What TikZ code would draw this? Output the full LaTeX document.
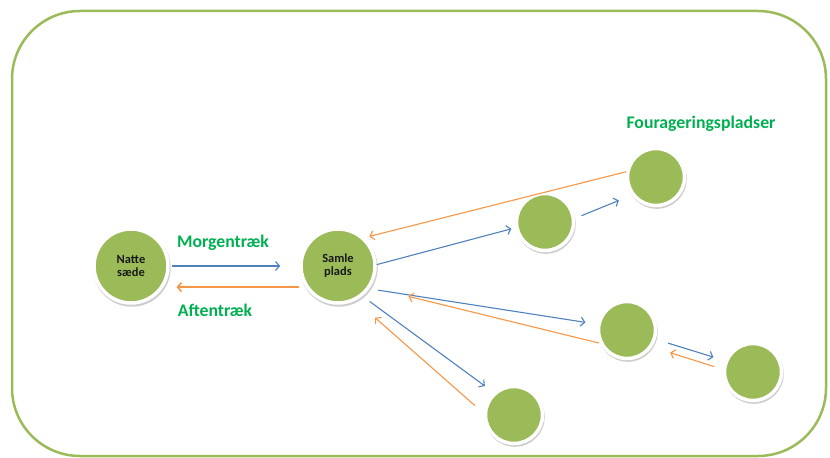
\documentclass[tikz,border=0pt]{standalone}
\usepackage{fontspec}
\setmainfont{Carlito}
\usetikzlibrary{arrows.meta,shadows}
\definecolor{olive}{HTML}{9BBB59}
\definecolor{txtgreen}{HTML}{00B050}
\definecolor{arrblue}{HTML}{4F81BD}
\definecolor{arrorange}{HTML}{F79646}
\tikzset{
  spot/.style={circle, fill=olive, draw=white, line width=3.5bp, inner sep=0pt,
    drop shadow={shadow xshift=0.8bp, shadow yshift=-1.8bp, shadow scale=1.05, opacity=0.28, fill=black!70},
    font=\fontsize{12.5}{13}\selectfont\bfseries, align=center, text=black!90},
  bigspot/.style={spot, minimum size=74bp},
  smallspot/.style={spot, minimum size=57bp},
  blueflow/.style={draw=arrblue, line width=1.1bp, -{Straight Barb[length=4bp,width=9bp]}},
  orangeflow/.style={draw=arrorange, line width=1.1bp, -{Straight Barb[length=4bp,width=9bp]}},
  lbl/.style={text=txtgreen, font=\fontsize{17.8}{19}\selectfont\bfseries}
}
\begin{document}
\begin{tikzpicture}[x=1bp,y=-1bp]
\useasboundingbox (0,0) rectangle (830,458);
\draw[olive, line width=2.5bp, rounded corners=68bp] (12,11) rectangle (826,456);

\node[bigspot] (natte) at (131,266) {Natte\\sæde};
\node[bigspot] (samle) at (338,266) {Samle\\plads};
\node[smallspot] (top) at (656,177) {};
\node[smallspot] (mid) at (545,222) {};
\node[smallspot] (rmid) at (627,330) {};
\node[smallspot] (far) at (753,372) {};
\node[smallspot] (bot) at (514,415) {};

\node[lbl] (morgen) at (223,243) {Morgentræk};
\node[lbl] (aften) at (215,310) {Aftentræk};
\node[lbl] (four) at (701,124) {Fourageringspladser};

\draw[blueflow, shorten <=2bp, shorten >=19bp] (natte.east) -- (samle.west);
\draw[orangeflow, line width=1.6bp, shorten <=7bp, shorten >=13bp] (samle.213) -- (natte.-33);

\draw[orangeflow, shorten <=0bp, shorten >=5bp] (top.170) -- (samle.47);
\draw[blueflow, shorten <=0bp, shorten >=4bp] (samle.2) -- (mid.191);
\draw[blueflow, shorten <=7bp, shorten >=14bp] (mid.7) -- (top.217);

\draw[blueflow, shorten <=9bp, shorten >=12bp] (samle.-36) -- (rmid.169);
\draw[orangeflow, shorten <=1bp, shorten >=39bp] (rmid.206) -- (samle.-33);

\draw[blueflow, shorten <=9bp, shorten >=11bp] (samle.-51) -- (bot.132);
\draw[orangeflow, shorten <=12bp, shorten >=26bp] (bot.177) -- (samle.-63);

\draw[blueflow, shorten <=13bp, shorten >=12bp] (rmid.-18) -- (far.158);
\draw[orangeflow, shorten <=9bp, shorten >=19bp] (far.175) -- (rmid.-34);
\end{tikzpicture}
\end{document}
